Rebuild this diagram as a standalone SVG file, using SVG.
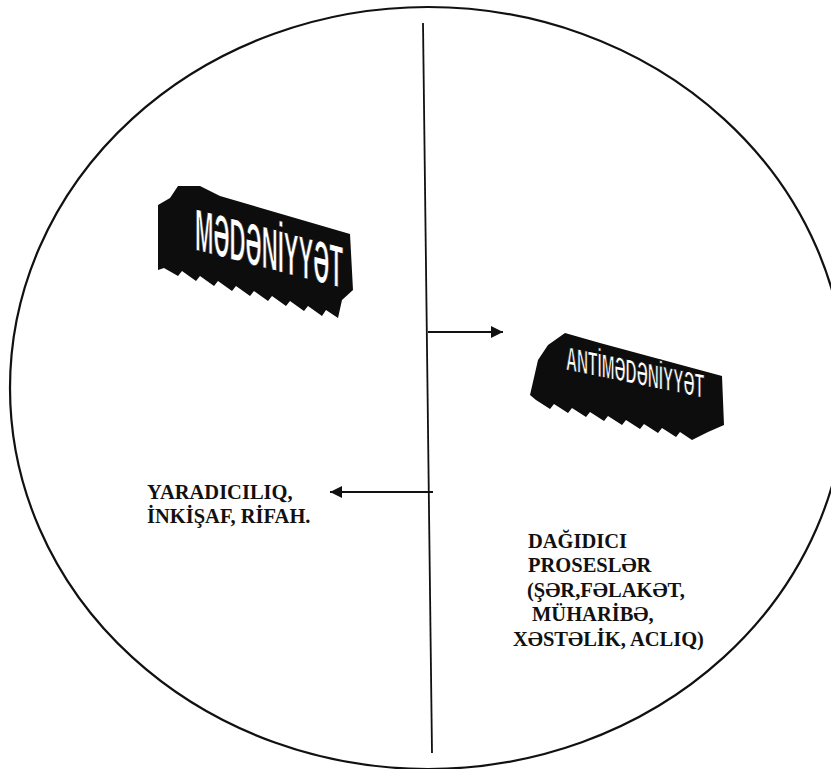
<svg xmlns="http://www.w3.org/2000/svg" width="831" height="769" viewBox="0 0 831 769">
<defs>
<style>
.ln{fill:none;stroke:#111;stroke-width:1.8}
.lbl{font-family:"Liberation Serif","Times New Roman",serif;font-weight:bold;font-size:20.5px;fill:#111}
.ext{fill:#0d0d0d}
.wa{font-family:"Liberation Sans",Arial,sans-serif;font-weight:bold;fill:#fff;stroke:#000;stroke-width:1}
</style>
<marker id="ah" viewBox="0 0 10 10" refX="10" refY="5" markerWidth="14" markerHeight="12" markerUnits="userSpaceOnUse" orient="auto">
<path d="M0,0 L10,5 L0,10 z" fill="#111"/>
</marker>
</defs>
<rect width="831" height="769" fill="#fff"/>
<g id="circle">
<ellipse cx="428" cy="388" rx="418" ry="381" fill="none" stroke="#111" stroke-width="2.2"/>
</g>
<g id="connectors">
<line class="ln" x1="423" y1="23" x2="432" y2="753"/>
<line class="ln" x1="428" y1="332" x2="503" y2="332" marker-end="url(#ah)"/>
<line class="ln" x1="433" y1="492" x2="330" y2="492" marker-end="url(#ah)"/>
</g>
<g id="medeniyyet">
<polygon class="ext" points="158,205 170,198 178,186 200,186 220,196 350,234 353,290 342,300 338,318 326,310 322,316 308,306 304,311 290,301 286,306 272,296 268,301 254,291 250,296 236,286 232,291 218,281 214,286 200,276 196,281 182,271 178,276 164,268 158,270"/>
<text class="wa" transform="translate(195,250) skewY(14.6)" font-size="60" textLength="148" lengthAdjust="spacingAndGlyphs">MƏDƏNİYYƏT</text>
</g>
<g id="antimedeniyyet">
<polygon class="ext" points="530,395 538,360 548,345 565,333 600,343 722,376 724,425 708,432 692,440 680,432 676,437 662,428 658,433 644,424 640,429 626,420 622,425 608,416 604,421 590,412 586,417 572,408 568,413 554,404 550,409 536,400"/>
<text class="wa" transform="translate(566,370) skewY(11.5)" font-size="34" textLength="138" lengthAdjust="spacingAndGlyphs">ANTİMƏDƏNİYYƏT</text>
</g>
<g id="left-label">
<text class="lbl"><tspan x="147" y="499">YARADICILIQ,</tspan><tspan x="147" y="523">İNKİŞAF, RİFAH.</tspan></text>
</g>
<g id="right-label">
<text class="lbl"><tspan x="528" y="548">DAĞIDICI</tspan><tspan x="528" y="572">PROSESLƏR</tspan><tspan x="527" y="597">(ŞƏR,FƏLAKƏT,</tspan><tspan x="532" y="621">MÜHARİBƏ,</tspan><tspan x="513" y="646">XƏSTƏLİK, ACLIQ)</tspan></text>
</g>
</svg>
